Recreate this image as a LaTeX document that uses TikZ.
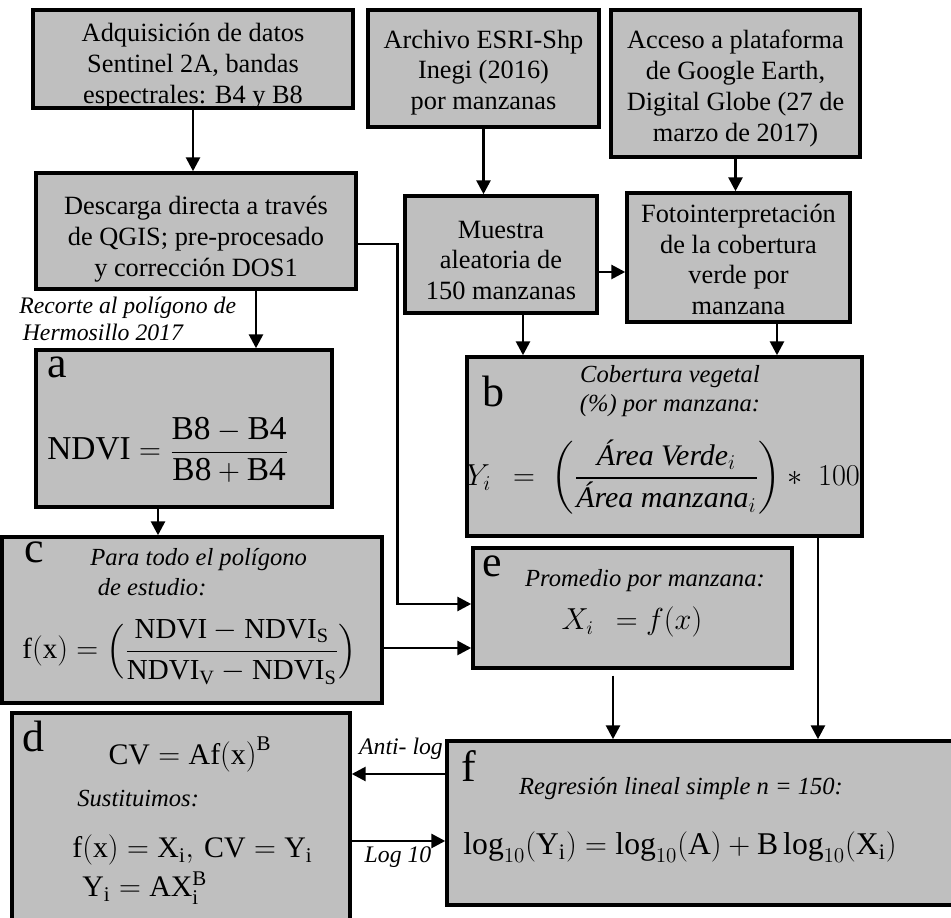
\documentclass[tikz,border=0pt]{standalone}
\usepackage{amsmath}
\usepackage{fontspec}
\setmainfont{Liberation Serif}
\usetikzlibrary{arrows.meta,calc}

\definecolor{grisbox}{RGB}{191,191,191}

\tikzset{
  caja/.style={draw=black, line width=2pt, fill=grisbox, inner sep=0pt},
  texto/.style={inner sep=0pt, align=center, font=\fontsize{15}{17.5}\selectfont},
  letra/.style={inner sep=0pt, anchor=base west, font=\fontsize{25}{25}\selectfont},
  nota/.style={inner sep=0pt, font=\fontsize{14}{17}\selectfont\itshape},
  ecu/.style={inner sep=0pt, font=\fontsize{18}{22}\selectfont},
  flecha/.style={line width=1.6pt, -{Triangle[length=0.28cm,width=0.28cm]}},
}

\begin{document}
\begin{tikzpicture}[x=0.02cm, y=-0.02cm]
    \useasboundingbox (0,0) rectangle (951,918);
    \clip (0,0) rectangle (951,918);
    \fill[white] (0,0) rectangle (951,918);
    % boxes
    \node[caja, minimum width=6.4cm, minimum height=1.96cm] (adq) at (193,59) {};
    \node[caja, minimum width=4.62cm, minimum height=2.34cm] (esri) at (483.5,68.5) {};
    \node[caja, minimum width=4.98cm, minimum height=2.94cm] (acceso) at (735.5,83.5) {};
    \node[caja, minimum width=6.4cm, minimum height=2.32cm] (desc) at (196,231) {};
    \node[caja, minimum width=3.84cm, minimum height=2.34cm] (muestra) at (501,254.5) {};
    \node[caja, minimum width=4.46cm, minimum height=2.58cm] (foto) at (738.5,257.5) {};
    \node[caja, minimum width=5.92cm, minimum height=3.14cm] (ndvi) at (184,428.5) {};
    \node[caja, minimum width=7.9cm, minimum height=3.58cm] (cob) at (664.5,446.5) {};
    \node[caja, minimum width=7.6cm, minimum height=3.32cm] (norm) at (192,620) {};
    \node[caja, minimum width=6.38cm, minimum height=2.4cm] (prom) at (632.5,608) {};
    \node[caja, minimum width=6.76cm, minimum height=4.54cm] (pot) at (181,826.5) {};
    \node[caja, minimum width=10.46cm, minimum height=3.28cm] (reg) at (708.5,823) {};
    % box texts
    \node[texto] (adq-t) at ([yshift=-0.14cm]adq.center)
        {Adquisición de datos\\Sentinel 2A, bandas\\espectrales: B4 y B8};
    \node[texto] (esri-t) at ([yshift=-0.08cm]esri.center)
        {Archivo ESRI-Shp\\Inegi (2016)\\por manzanas};
    \node[texto] (acceso-t) at ([yshift=-0.1cm]acceso.center)
        {Acceso a plataforma\\de Google Earth,\\Digital Globe (27 de\\marzo de 2017)};
    \node[texto] (desc-t) at ([yshift=-0.16cm]desc.center)
        {Descarga directa a través\\de QGIS; pre-procesado\\y corrección DOS1};
    \node[texto] (muestra-t) at ([yshift=-0.12cm]muestra.center)
        {Muestra\\aleatoria de\\150 manzanas};
    \node[texto] (foto-t) at ([yshift=-0.04cm]foto.center)
        {Fotointerpretación\\de la cobertura\\verde por\\manzana};
    % letters
    \node[letra] (la) at (47,378) {a};
    \node[letra] (lb) at (482,407) {b};
    \node[letra] (lc) at (24,563) {c};
    \node[letra] (ld) at (22,752) {d};
    \node[letra] (le) at (482,577) {e};
    \node[letra] (lf) at (461,782) {f};
    % box a
    \node[ecu, anchor=west, font=\fontsize{19}{22}\selectfont] (fa) at (47,450)
        {$\mathrm{NDVI}=\dfrac{\mathrm{B8}-\mathrm{B4}}{\mathrm{B8}+\mathrm{B4}}$};
    % box b
    \node[nota, align=center, anchor=base] (nb) at (670,412) {Cobertura vegetal\\(\%) por manzana:};
    \node[ecu, font=\fontsize{17}{20}\selectfont] (fb) at (663,477)
        {$Y_i\;\,=\;\left(\dfrac{\text{\itshape Área Verde}_i}{\text{\itshape Área manzana}_i}\right)\ast\;100$};
    % box c
    \node[nota, align=left, anchor=west] (nc) at (90,572) {Para todo el polígono\\\hspace{0.15cm}de estudio:};
    \node[ecu, anchor=west, font=\fontsize{16.5}{20}\selectfont] (fc) at (22,652)
        {$\mathrm{f(x)}=\Bigl(\dfrac{\mathrm{NDVI}-\mathrm{NDVI_S}}{\mathrm{NDVI_V}-\mathrm{NDVI_S}}\Bigr)$};
    % box e
    \node[nota, anchor=base] (ne) at (645,587) {Promedio por manzana:};
    \node[ecu, anchor=base, font=\fontsize{16}{20}\selectfont] (fe) at (632,630) {$X_i\;\,=f(x)$};
    % box d
    \node[ecu, anchor=base, font=\fontsize{17}{20}\selectfont] (fd1) at (190,765) {$\mathrm{CV}=\mathrm{Af(x)}^{\mathrm{B}}$};
    \node[nota, anchor=base west] (nd) at (77,807) {Sustituimos:};
    \node[ecu, anchor=base west, font=\fontsize{17}{20}\selectfont] (fd2) at (72,858)
        {$\mathrm{f(x)}=\mathrm{X_i},\,\mathrm{CV}=\mathrm{Y_i}$};
    \node[ecu, anchor=base west, font=\fontsize{17}{20}\selectfont] (fd3) at (82,897)
        {$\mathrm{Y_i}=\mathrm{AX_i^B}$};
    % box f
    \node[nota, anchor=base] (nf) at (681,795) {Regresión lineal simple n = 150:};
    \node[ecu, anchor=base] (ff) at (680,855)
        {$\log_{10}(\mathrm{Y_i})=\log_{10}(\mathrm{A})+\mathrm{B}\log_{10}(\mathrm{X_i})$};
    % side texts
    \node[nota, align=left, anchor=west, font=\fontsize{13.5}{15.5}\selectfont\itshape] (rec) at (19,319)
        {Recorte al polígono de\\\hspace{2pt}Hermosillo 2017};
    \node[nota, anchor=base, font=\fontsize{13.5}{15.5}\selectfont\itshape] (alog) at (401,755) {Anti- log};
    \node[nota, anchor=base, font=\fontsize{13.5}{15.5}\selectfont\itshape] (l10) at (398,863) {Log 10};
    % arrows
    \draw[flecha] (adq.south) -- (adq.south |- desc.north);
    \draw[flecha] (esri.south) -- (esri.south |- muestra.north);
    \draw[flecha] (acceso.south) -- (acceso.south |- foto.north);
    \draw[flecha] ([yshift=-0.35cm]muestra.east) -- ([yshift=-0.35cm]muestra.east -| foto.west);
    \draw[flecha] ([xshift=1.2cm]desc.south) -- ([xshift=1.2cm]desc.south |- ndvi.north);
    \draw[flecha] ([yshift=-0.26cm]desc.east) -- ++(0.8cm,0) |- ([yshift=0.08cm]prom.west);
    \draw[flecha] ([xshift=0.44cm]muestra.south) -- ([xshift=0.44cm]muestra.south |- cob.north);
    \draw[flecha] ([xshift=0.77cm]foto.south) -- ([xshift=0.77cm]foto.south |- cob.north);
    \draw[flecha] ([xshift=-0.52cm]ndvi.south) -- ([xshift=-0.52cm]ndvi.south |- norm.north);
    \draw[flecha] ([yshift=-0.56cm]norm.east) -- ([yshift=-0.56cm]norm.east -| prom.west);
    \draw[flecha] ([xshift=3.07cm]cob.south) -- ([xshift=3.07cm]cob.south |- reg.north);
    \draw[flecha] ([xshift=-0.39cm,yshift=-0.12cm]prom.south) -- ([xshift=-0.39cm]prom.south |- reg.north);
    \draw[flecha] ([yshift=0.98cm]reg.west) -- ([yshift=0.98cm]reg.west -| pot.east);
    \draw[flecha] ([yshift=-0.36cm]reg.west -| pot.east) -- ([yshift=-0.36cm]reg.west);
\end{tikzpicture}
\end{document}
